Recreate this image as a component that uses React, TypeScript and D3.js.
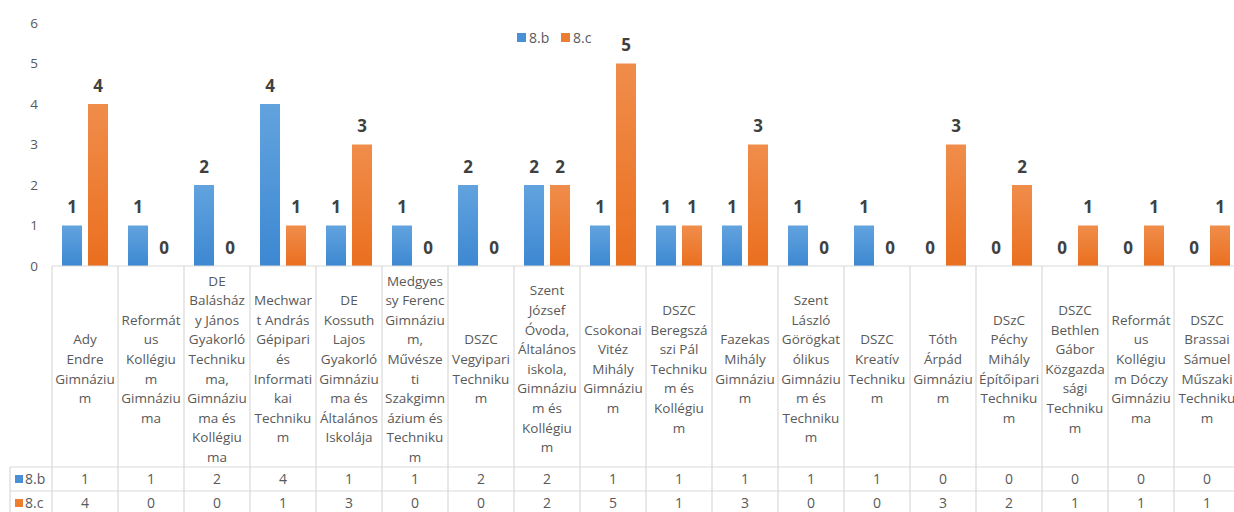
import React from "react";
import * as d3 from "d3";

const categories: string[] = [
  "Ady\nEndre\nGimnáziu\nm",
  "Reformát\nus\nKollégiu\nm\nGimnáziu\nma",
  "DE\nBalásház\ny János\nGyakorló\nTechniku\nma,\nGimnáziu\nma és\nKollégiu\nma",
  "Mechwar\nt András\nGépipari\nés\nInformati\nkai\nTechniku\nm",
  "DE\nKossuth\nLajos\nGyakorló\nGimnáziu\nma és\nÁltalános\nIskolája",
  "Medgyes\nsy Ferenc\nGimnáziu\nm,\nMűvésze\nti\nSzakgimn\názium és\nTechniku\nm",
  "DSZC\nVegyipari\nTechniku\nm",
  "Szent\nJózsef\nÓvoda,\nÁltalános\niskola,\nGimnáziu\nm és\nKollégiu\nm",
  "Csokonai\nVitéz\nMihály\nGimnáziu\nm",
  "DSZC\nBeregszá\nszi Pál\nTechniku\nm és\nKollégiu\nm",
  "Fazekas\nMihály\nGimnáziu\nm",
  "Szent\nLászló\nGörögkat\nólikus\nGimnáziu\nm és\nTechniku\nm",
  "DSZC\nKreatív\nTechniku\nm",
  "Tóth\nÁrpád\nGimnáziu\nm",
  "DSzC\nPéchy\nMihály\nÉpítőipari\nTechniku\nm",
  "DSZC\nBethlen\nGábor\nKözgazda\nsági\nTechniku\nm",
  "Reformát\nus\nKollégiu\nm Dóczy\nGimnáziu\nma",
  "DSZC\nBrassai\nSámuel\nMűszaki\nTechniku\nm",
];

const seriesNames: string[] = ["8.b", "8.c"];
const values8b: number[] = [1, 1, 2, 4, 1, 1, 2, 2, 1, 1, 1, 1, 1, 0, 0, 0, 0, 0];
const values8c: number[] = [4, 0, 0, 1, 3, 0, 0, 2, 5, 1, 3, 0, 0, 3, 2, 1, 1, 1];
const yTicks: number[] = [0, 1, 2, 3, 4, 5, 6];

const seriesValues = [values8b, values8c];
const colorsTop = ["#62a3de", "#f08d4b"];
const colorsBottom = ["#3d88d2", "#ea6f1f"];
const legendColors = ["#4a90d6", "#ed7d31"];

const FONT = "'Open Sans', 'DejaVu Sans', sans-serif";
const TEXT = "#595959";
const GRID = "#d9d9d9";

export default function App() {
  const W = 1234;
  const H = 512;
  const left = 52;
  const colW = 66;
  const y0 = 266;
  const catBottom = 467;
  const rowH = 24;

  const x = d3
    .scaleBand<string>()
    .domain(categories.map((_, i) => String(i)))
    .range([left, left + categories.length * colW])
    .paddingInner(0)
    .paddingOuter(0);
  const xs = d3
    .scaleBand<string>()
    .domain(seriesNames)
    .range([10, colW - 10])
    .paddingInner(0.23)
    .paddingOuter(0);
  const y = d3.scaleLinear().domain([0, 6]).range([y0, 23]);

  const right = left + categories.length * colW;
  const lineH = 19.6;
  const catCenter = 369;

  return (
    <svg
      width={W}
      height={H}
      style={{ position: "absolute", left: 0, top: 0, background: "#fff" }}
      fontFamily={FONT}
    >
      <defs>
        {seriesNames.map((s, i) => (
          <linearGradient key={s} id={`g${i}`} x1="0" y1="0" x2="0" y2="1">
            <stop offset="0%" stopColor={colorsTop[i]} />
            <stop offset="100%" stopColor={colorsBottom[i]} />
          </linearGradient>
        ))}
      </defs>
      <rect x={0} y={0} width={W} height={H} fill="#fff" />

      {/* y axis labels */}
      {yTicks.map((t) => (
        <text
          key={t}
          x={38}
          y={y(t)}
          dy="0.35em"
          textAnchor="end"
          fontSize={13.5}
          fill={TEXT}
        >
          {t}
        </text>
      ))}

      {/* legend */}
      <g fontSize={14} fill={TEXT}>
        <rect x={517} y={33} width={9} height={9} fill={legendColors[0]} />
        <text x={529} y={38} dy="0.35em">{seriesNames[0]}</text>
        <rect x={561} y={33} width={9} height={9} fill={legendColors[1]} />
        <text x={573} y={38} dy="0.35em">{seriesNames[1]}</text>
      </g>

      {/* bars */}
      {categories.map((_, ci) => (
        <g key={ci} transform={`translate(${x(String(ci))},0)`}>
          {seriesNames.map((s, si) => {
            const v = seriesValues[si][ci];
            const bx = xs(s)!;
            const bw = xs.bandwidth();
            return (
              <g key={s}>
                {v > 0 && (
                  <rect
                    x={bx}
                    y={y(v)}
                    width={bw}
                    height={y0 - y(v)}
                    fill={`url(#g${si})`}
                  />
                )}
                <text
                  x={bx + bw / 2}
                  y={y(v) - 18}
                  dy="0.35em"
                  textAnchor="middle"
                  fontSize={17}
                  fontWeight="bold"
                  fill="#404040"
                >
                  {v}
                </text>
              </g>
            );
          })}
        </g>
      ))}

      {/* data table grid */}
      <g stroke={GRID} strokeWidth={1.2} fill="none">
        <line x1={left} x2={right} y1={y0} y2={y0} />
        <line x1={10} x2={right} y1={catBottom} y2={catBottom} />
        <line x1={10} x2={right} y1={catBottom + rowH} y2={catBottom + rowH} />
        <line x1={10} x2={right} y1={catBottom + 2 * rowH} y2={catBottom + 2 * rowH} />
        <line x1={10} x2={10} y1={catBottom} y2={H} />
        {d3.range(categories.length + 1).map((i) => (
          <line key={i} x1={left + i * colW} x2={left + i * colW} y1={y0} y2={H} />
        ))}
      </g>

      {/* category labels */}
      {categories.map((c, ci) => {
        const lines = c.split("\n");
        const cx = x(String(ci))! + x.bandwidth() / 2;
        const start = catCenter - ((lines.length - 1) * lineH) / 2;
        return (
          <text key={ci} textAnchor="middle" fontSize={13.5} fill={TEXT}>
            {lines.map((l, li) => (
              <tspan key={li} x={cx} y={start + li * lineH} dy="0.35em">
                {l}
              </tspan>
            ))}
          </text>
        );
      })}

      {/* row headers and values */}
      {seriesNames.map((s, si) => {
        const ry = catBottom + si * rowH + rowH / 2;
        return (
          <g key={s} fontSize={14} fill={TEXT}>
            <rect x={15} y={ry - 4} width={8} height={8} fill={legendColors[si]} />
            <text x={25} y={ry} dy="0.35em">{s}</text>
            {categories.map((_, ci) => (
              <text
                key={ci}
                x={x(String(ci))! + x.bandwidth() / 2}
                y={ry}
                dy="0.35em"
                textAnchor="middle"
              >
                {seriesValues[si][ci]}
              </text>
            ))}
          </g>
        );
      })}
    </svg>
  );
}
